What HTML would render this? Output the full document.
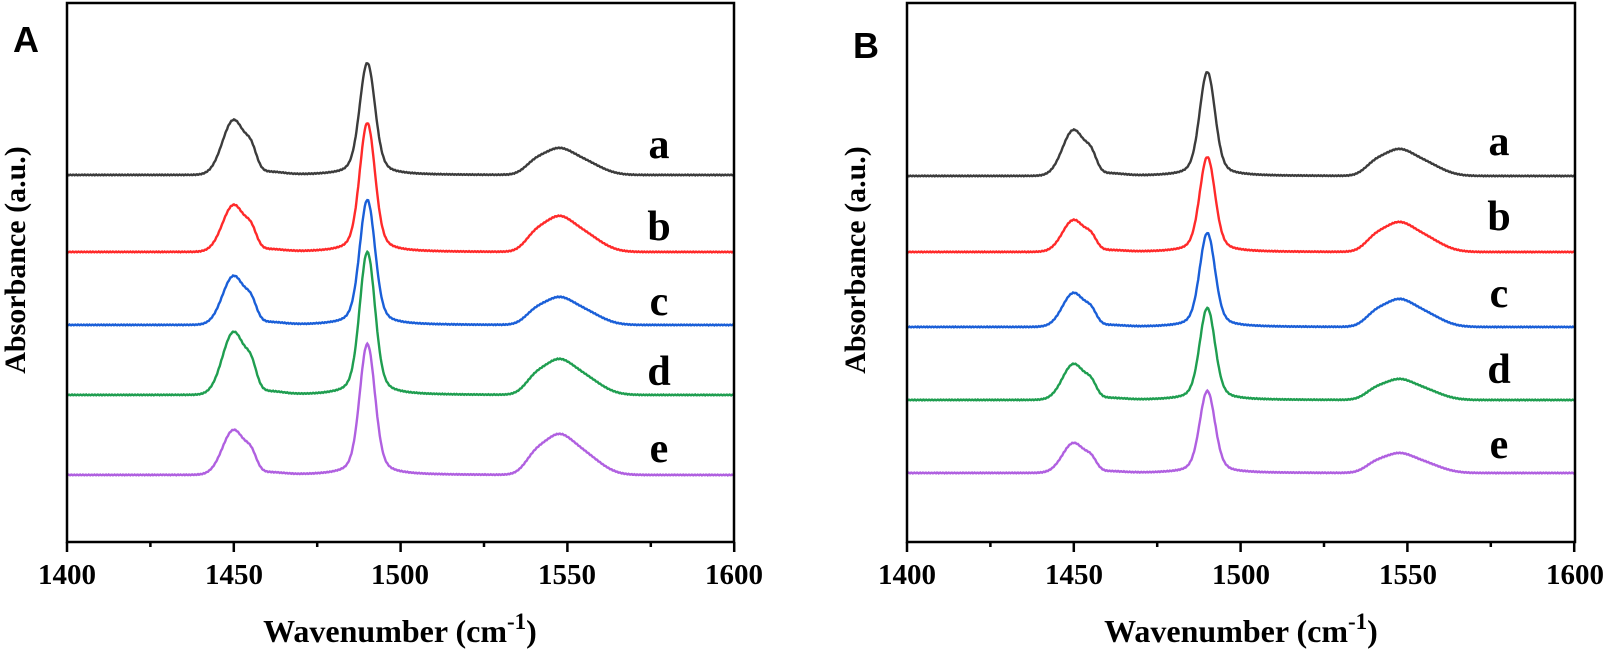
<!DOCTYPE html>
<html><head><meta charset="utf-8"><style>
html,body{margin:0;padding:0;background:#fff;}
svg{display:block;}
.serif{font-family:"Liberation Serif","Times New Roman",serif;font-weight:bold;}
.sans{font-family:"Liberation Sans",Arial,sans-serif;font-weight:bold;}
</style></head><body>
<svg id="svg" width="1605" height="651" viewBox="0 0 1605 651" xmlns="http://www.w3.org/2000/svg">
<g id="curves"></g>
<g fill="none" stroke="#000" stroke-width="2.5">
<rect x="67" y="3" width="667" height="539"/>
<rect x="907" y="3" width="668" height="539"/>
</g>
<g id="ticks" stroke="#000" stroke-width="2.5"></g>
<text class="sans" x="13" y="52" font-size="36">A</text>
<text class="sans" x="853" y="58" font-size="36">B</text>
<text class="serif" transform="translate(25,260) rotate(-90)" text-anchor="middle" font-size="30">Absorbance (a.u.)</text>
<text class="serif" transform="translate(865,260) rotate(-90)" text-anchor="middle" font-size="30">Absorbance (a.u.)</text>
<text class="serif" font-size="29" text-anchor="middle" x="67" y="584">1400</text>
<text class="serif" font-size="29" text-anchor="middle" x="234" y="584">1450</text>
<text class="serif" font-size="29" text-anchor="middle" x="400" y="584">1500</text>
<text class="serif" font-size="29" text-anchor="middle" x="567" y="584">1550</text>
<text class="serif" font-size="29" text-anchor="middle" x="734" y="584">1600</text>
<text class="serif" font-size="29" text-anchor="middle" x="907" y="584">1400</text>
<text class="serif" font-size="29" text-anchor="middle" x="1074" y="584">1450</text>
<text class="serif" font-size="29" text-anchor="middle" x="1241" y="584">1500</text>
<text class="serif" font-size="29" text-anchor="middle" x="1408" y="584">1550</text>
<text class="serif" font-size="29" text-anchor="middle" x="1575" y="584">1600</text>
<text class="serif" x="400" y="642" font-size="32" text-anchor="middle">Wavenumber (cm<tspan dy="-13" font-size="23">-1</tspan><tspan dy="13">)</tspan></text>
<text class="serif" x="1241" y="642" font-size="32" text-anchor="middle">Wavenumber (cm<tspan dy="-13" font-size="23">-1</tspan><tspan dy="13">)</tspan></text>
<g class="serif" font-size="42" text-anchor="middle">
<text x="659" y="158">a</text><text x="659" y="240">b</text><text x="659" y="315">c</text><text x="659" y="385">d</text><text x="659" y="462">e</text>
<text x="1499" y="155">a</text><text x="1499" y="230">b</text><text x="1499" y="307">c</text><text x="1499" y="383">d</text><text x="1499" y="458">e</text>
</g>
</svg>
<script>
(function(){
var NS="http://www.w3.org/2000/svg";
function G(x,m,s){return Math.exp(-(x-m)*(x-m)/(2*s*s));}
function L(x,m,g){return g*g/((x-m)*(x-m)+g*g);}
function p1(x){return G(x,1450,3.4)+0.3*G(x,1455.3,1.6)+0.05*G(x,1461,4);}
function p2(x){return 0.78*G(x,1490,2.2)+0.22*L(x,1490,4);}
function p3(x){return 0.65*G(x,1546.5,4.2)+0.45*G(x,1554,5.5)+0.3*G(x,1540,3);}
function mx(f){var m=0;for(var x=1400;x<=1600;x+=0.1){m=Math.max(m,f(x));}return m;}
var m1=mx(p1),m2=mx(p2),m3=mx(p3);
var cols=["#3c3c3c","#ff2a2a","#1a5fd8","#1f9e50","#b060e0"];
var A=[[175,120,63,148],[252,205,123,216],[325,276,200,297],[395,332,252,359],[475,430,344,434]];
var B=[[176,130,72,149],[252,220,157,222],[327,293,233,299],[400,364,308,379],[473,443,391,453]];
var g=document.getElementById("curves");
function draw(x0,data){
 for(var i=0;i<5;i++){
  var d=data[i],b=d[0],h1=b-d[1],h2=b-d[2],h3=b-d[3],s="";
  for(var w=1400;w<=1600.001;w+=0.25){
   var y=b-h1*p1(w)/m1-h2*p2(w)/m2-h3*p3(w)/m3+0.4*Math.sin(w*7.3+i);
   var X=x0+(w-1400)*3.337;
   s+=(s?"L":"M")+X.toFixed(1)+" "+y.toFixed(1);
  }
  var p=document.createElementNS(NS,"path");
  p.setAttribute("d",s);p.setAttribute("fill","none");p.setAttribute("stroke",cols[i]);p.setAttribute("stroke-width","2.4");
  g.appendChild(p);
 }
}
draw(67,A);draw(907,B);
var t=document.getElementById("ticks");
[67,907].forEach(function(x0){
 for(var k=0;k<=8;k++){
  var X=x0+k*83.4,l=(k%2==0)?10:5;
  var ln=document.createElementNS(NS,"line");
  ln.setAttribute("x1",X);ln.setAttribute("x2",X);ln.setAttribute("y1",542);ln.setAttribute("y2",542+l);
  t.appendChild(ln);
 }
});
})();
</script>
</body></html>
